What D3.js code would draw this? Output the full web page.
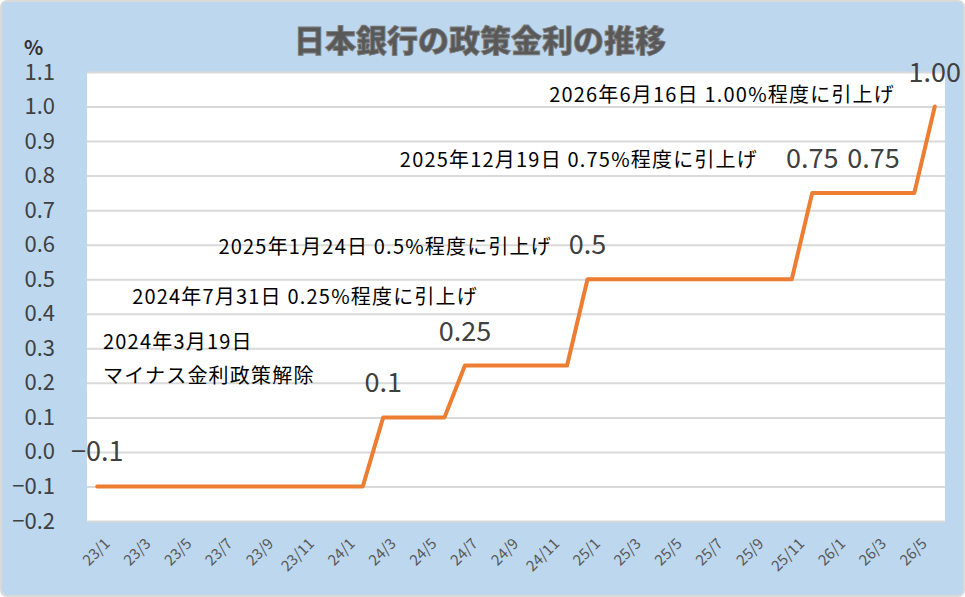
<!DOCTYPE html>
<html><head><meta charset="utf-8">
<script src="https://cdn.jsdelivr.net/npm/d3@7"></script>
<style>body{margin:0;background:#fff}svg{display:block}</style>
</head><body><svg id="c"></svg>
<script>
const months = ["23/1","23/2","23/3","23/4","23/5","23/6","23/7","23/8","23/9","23/10","23/11","23/12",
  "24/1","24/2","24/3","24/4","24/5","24/6","24/7","24/8","24/9","24/10","24/11","24/12",
  "25/1","25/2","25/3","25/4","25/5","25/6","25/7","25/8","25/9","25/10","25/11","25/12",
  "26/1","26/2","26/3","26/4","26/5","26/6"];
const rates = [-0.1,-0.1,-0.1,-0.1,-0.1,-0.1,-0.1,-0.1,-0.1,-0.1,-0.1,-0.1,
  -0.1,-0.1,0.1,0.1,0.1,0.1,0.25,0.25,0.25,0.25,0.25,0.25,
  0.5,0.5,0.5,0.5,0.5,0.5,0.5,0.5,0.5,0.5,0.5,0.75,
  0.75,0.75,0.75,0.75,0.75,1.0];
const yTicks = [-0.2,-0.1,0,0.1,0.2,0.3,0.4,0.5,0.6,0.7,0.8,0.9,1.0,1.1];
// value labels: [month, text]
const valueLabels = [["23/1","−0.1"],["24/3","0.1"],["24/7","0.25"],["25/1","0.5"],["25/12","0.75"],["26/3","0.75"],["26/6","1.00"]];
// annotations
const notes = [
  ["2026年6月16日 1.00%程度に引上げ"],
  ["2025年12月19日 0.75%程度に引上げ"],
  ["2025年1月24日 0.5%程度に引上げ"],
  ["2024年7月31日 0.25%程度に引上げ"],
  ["2024年3月19日","マイナス金利政策解除"]
];

const W = 965, H = 597;
const m = {l:87, r:20, t:72, b:76};
const svg = d3.select("#c").attr("width", W).attr("height", H);
const font = "'Noto Sans CJK JP',sans-serif";

svg.append("rect").attr("x",1).attr("y",1).attr("width",W-2).attr("height",H-2)
  .attr("rx",6).attr("fill","#bdd7ee").attr("stroke","#d9d9d9").attr("stroke-width",2);

const x = d3.scaleBand().domain(months).range([m.l, W-m.r]);
const y = d3.scaleLinear().domain([-0.2,1.1]).range([H-m.b, m.t]);

svg.append("rect").attr("x",m.l).attr("y",m.t).attr("width",W-m.r-m.l).attr("height",H-m.b-m.t).attr("fill","#fff");

const gy = svg.append("g").attr("transform",`translate(${m.l},0)`)
  .call(d3.axisLeft(y).tickValues(yTicks).tickSize(-(W-m.l-m.r)).tickFormat(d3.format(".1f")));
gy.select(".domain").remove();
gy.selectAll(".tick line").attr("stroke","#d9d9d9").attr("stroke-width",2);
gy.selectAll(".tick text").attr("x",-32).attr("font-family",font).attr("font-size",22).attr("fill","#404040");

const gx = svg.append("g").attr("transform",`translate(0,${H-m.b})`)
  .call(d3.axisBottom(x).tickValues(months.filter((d,i)=>i%2===0)).tickSize(0));
gx.select(".domain").remove();
gx.selectAll(".tick text").attr("font-family",font).attr("font-size",15).attr("fill","#595959")
  .attr("text-anchor","end").attr("transform","translate(4,14) rotate(-45)");

svg.append("text").attr("x",24).attr("y",55).attr("font-family",font).attr("font-weight","bold")
  .attr("font-size",20).attr("fill","#333").text("%");

svg.append("text").attr("x",480).attr("y",52).attr("text-anchor","middle").attr("font-family",font)
  .attr("font-weight","900").attr("font-size",31).attr("fill","#595959").attr("stroke","#7f7f7f").attr("stroke-width",0.8)
  .text("日本銀行の政策金利の推移");

const line = d3.line().x((d,i)=>x(months[i])+x.bandwidth()/2).y(d=>y(d));
svg.append("path").datum(rates).attr("d",line).attr("fill","none").attr("stroke","#ed7d31")
  .attr("stroke-width",4).attr("stroke-linejoin","round").attr("stroke-linecap","round");

const cx = d => x(d)+x.bandwidth()/2;
svg.selectAll(".vl").data(valueLabels).join("text").attr("class","vl")
  .attr("x",d=>cx(d[0])).attr("y",d=>y(rates[months.indexOf(d[0])])-25)
  .attr("text-anchor","middle").attr("font-family",font).attr("font-size",27).attr("fill","#404040")
  .text(d=>d[1]);

const notePos = [[895,102,"end"],[758,167,"end"],[552,254,"end"],[478,304,"end"],[103,349,"start"]];
notes.forEach((lines,i)=>{
  const t = svg.append("text").attr("x",notePos[i][0]).attr("y",notePos[i][1]).attr("text-anchor",notePos[i][2])
    .attr("font-family",font).attr("font-size",20).attr("letter-spacing",1.2).attr("fill","#000");
  lines.forEach((s,j)=>t.append("tspan").attr("x",notePos[i][0]).attr("dy",j?34:0).text(s));
});
</script></body></html>
